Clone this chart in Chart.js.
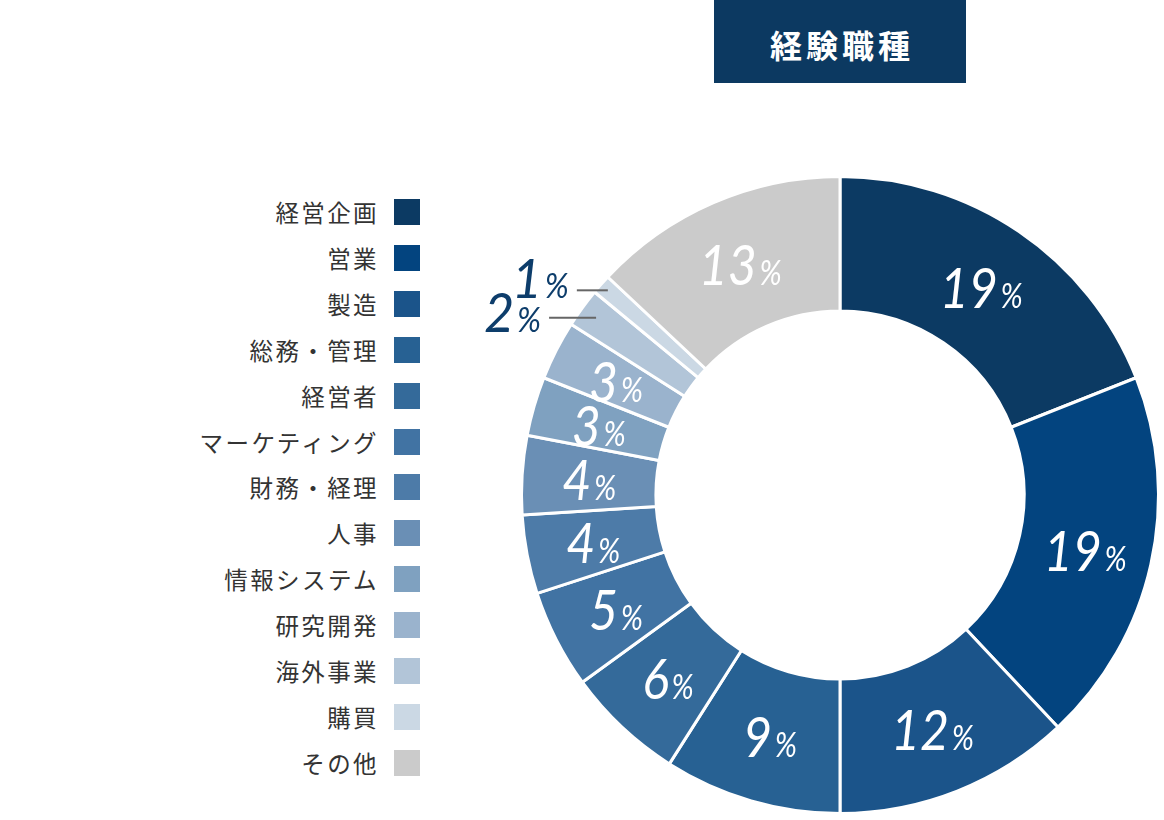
<!DOCTYPE html>
<html lang="ja">
<head>
<meta charset="utf-8">
<title>経験職種</title>
<script src="https://cdn.jsdelivr.net/npm/chart.js@4"></script>
<style>
  html, body { margin: 0; padding: 0; background: #fff; }
  body { width: 1164px; height: 820px; position: relative; overflow: hidden; font-family: "Noto Sans CJK JP", "Noto Sans", sans-serif; }
  .title {
    position: absolute; left: 714px; top: 0; width: 252px; height: 83px;
    background: #0c3961; color: #fff; font-weight: bold; font-size: 32px;
    letter-spacing: 4px; text-indent: 4px; text-align: center; line-height: 88px;
  }
  #chart { position: absolute; left: 0; top: 0; }
  .legend { position: absolute; left: 0; top: 0; width: 1164px; height: 820px; }
  .legend-row { position: absolute; height: 26px; display: flex; align-items: center; }
  .legend-row span.txt { font-size: 23.5px; color: #333; letter-spacing: 2.4px; white-space: nowrap; }
  .legend-row span.box { width: 26px; height: 26px; margin-left: 15px; }
</style>
</head>
<body>
<div class="title">経験職種</div>
<div class="legend" id="legend"></div>
<canvas id="chart" width="1164" height="820"></canvas>
<script>
const categories = ["経営企画", "営業", "製造", "総務・管理", "経営者", "マーケティング", "財務・経理", "人事", "情報システム", "研究開発", "海外事業", "購買", "その他"];
const values = [19, 19, 12, 9, 6, 5, 4, 4, 3, 3, 2, 1, 13];
const colors = ["#0c3a63", "#03447f", "#1b548a", "#276193", "#346a9a", "#4173a3", "#4d7ba8", "#6a8fb5", "#7fa1c0", "#9ab3cd", "#b2c5d8", "#cbd8e4", "#cbcbcb"];

// legend on the left, text right-aligned, box after text
const legend = document.getElementById("legend");
categories.forEach((c, i) => {
  const row = document.createElement("div");
  row.className = "legend-row";
  row.style.right = (1164 - 420) + "px";
  row.style.top = (199 + i * 45.9) + "px";
  row.innerHTML = `<span class="txt">${c}</span><span class="box" style="background:${colors[i]}"></span>`;
  legend.append(row);
});

// number + smaller "%", centred on (x, y) unless align is "right"
function drawPct(ctx, x, baseline, num, color, numSize, pctSize, sx, align) {
  ctx.save();
  ctx.translate(x, baseline);
  ctx.scale(sx, 1);
  ctx.fillStyle = color;
  ctx.textBaseline = "alphabetic";
  ctx.textAlign = "left";
  ctx.font = `italic 400 ${numSize}px Lato`;
  const wn = ctx.measureText(num).width;
  ctx.font = `italic 400 ${pctSize}px Lato`;
  const wp = ctx.measureText("%").width;
  const total = wn + 3 + wp;
  const x0 = align === "right" ? -total : -total / 2;
  ctx.font = `italic 400 ${numSize}px Lato`;
  ctx.fillText(num, x0, 0);
  ctx.font = `italic 400 ${pctSize}px Lato`;
  ctx.fillText("%", x0 + wn + 3, 0);
  ctx.restore();
}

const labelPlugin = {
  id: "pctLabels",
  afterDatasetsDraw(chart) {
    const ctx = chart.ctx;
    const meta = chart.getDatasetMeta(0);
    meta.data.forEach((arc, i) => {
      const v = values[i];
      const mid = (arc.startAngle + arc.endAngle) / 2;
      if (v >= 3) {
        const r = (arc.innerRadius + arc.outerRadius) / 2;
        const cx = arc.x + r * Math.cos(mid);
        const cy = arc.y + r * Math.sin(mid);
        drawPct(ctx, cx, cy + 21, String(v), "#fff", 57, 34, 0.88, "center");
      } else {
        // small slices: leader line to the left
        const r = arc.outerRadius - (v === 1 ? 9 : 17);
        const ex = arc.x + r * Math.cos(mid);
        const ey = arc.y + r * Math.sin(mid);
        const len = v === 1 ? 31 : 47;
        const sx = ex - len;
        ctx.save();
        ctx.strokeStyle = "#666";
        ctx.lineWidth = 2;
        ctx.beginPath();
        ctx.moveTo(sx, ey);
        ctx.lineTo(ex, ey);
        ctx.stroke();
        ctx.restore();
        drawPct(ctx, sx - 8, ey + (v === 1 ? 8 : 14), String(v), "#0d3d6b", 55, 34, 0.95, "right");
      }
    });
  }
};

new Chart(document.getElementById("chart"), {
  type: "doughnut",
  data: {
    labels: categories,
    datasets: [{
      data: values,
      backgroundColor: colors,
      borderColor: "#fff",
      borderWidth: 3,
      hoverOffset: 0
    }]
  },
  options: {
    responsive: false,
    animation: false,
    cutout: "57.8%",
    layout: { padding: { left: 520, right: 4, top: 175, bottom: 5 } },
    plugins: {
      legend: { display: false },
      tooltip: { enabled: false }
    }
  },
  plugins: [labelPlugin]
});
</script>
</body>
</html>
